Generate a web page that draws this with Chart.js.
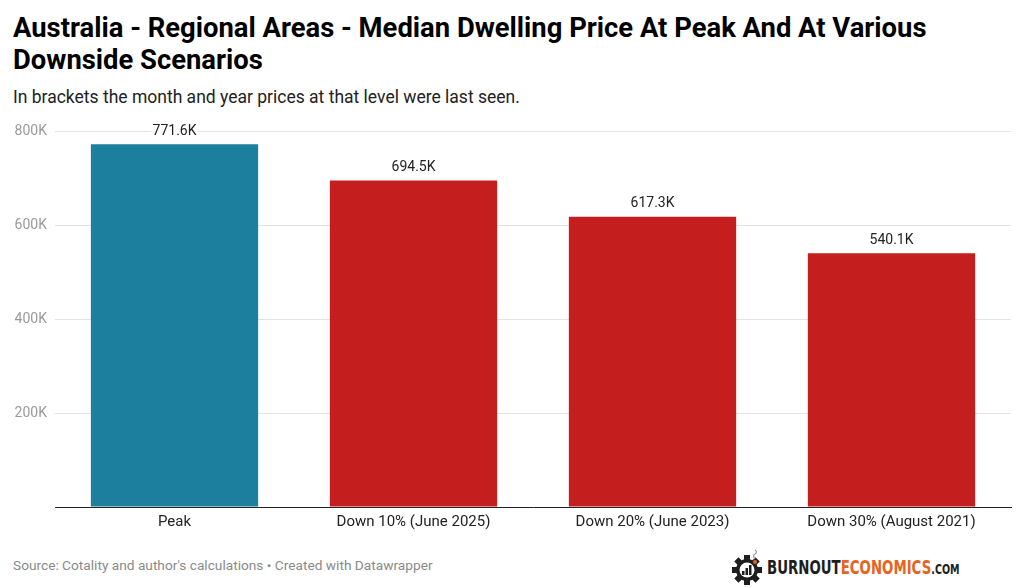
<!DOCTYPE html>
<html><head><meta charset="utf-8">
<script src="https://cdn.jsdelivr.net/npm/chart.js@4/dist/chart.umd.min.js"></script>
<style>
html,body{margin:0;padding:0;background:#fff;width:1024px;height:588px;overflow:hidden;font-family:Roboto,"Noto Sans",sans-serif;}
#title{position:absolute;left:13px;top:12px;width:940px;font-size:27.4px;font-weight:700;line-height:32px;color:#000;letter-spacing:0;}
#sub{position:absolute;left:13px;top:87px;font-size:17.5px;color:#222;}
#wrap{position:absolute;left:0;top:110px;width:1024px;height:427px;}
#foot{position:absolute;left:13px;top:557px;font-size:13.7px;color:#8a8a8a;}
#logo{position:absolute;left:731px;top:549px;height:36px;display:flex;align-items:center;}
#logo .t{font-family:"DejaVu Sans Condensed","DejaVu Sans",sans-serif;font-weight:700;font-size:19.5px;margin-left:4px;display:inline-block;transform:scaleX(0.76);transform-origin:left center;white-space:nowrap;}
#logo .d{color:#1e1e1e}#logo .o{color:#e8641e}#logo .c{color:#1e1e1e;font-size:14px;}
</style></head><body>
<div id="title">Australia - Regional Areas - Median Dwelling Price At Peak And At Various Downside Scenarios</div>
<div id="sub">In brackets the month and year prices at that level were last seen.</div>
<div id="wrap"><canvas id="c" width="1024" height="427"></canvas></div>
<div id="foot">Source: Cotality and author's calculations • Created with Datawrapper</div>
<div id="logo">
<svg width="32" height="36" viewBox="0 0 32 36">
<g transform="translate(16,21)">
<circle r="11" fill="#1e1e1e"/>
<g fill="#1e1e1e">
<rect x="-3" y="-15" width="6" height="6"/><rect x="-3" y="9" width="6" height="6"/>
<rect x="-15" y="-3" width="6" height="6"/><rect x="9" y="-3" width="6" height="6"/>
<rect x="-3" y="-15" width="6" height="6" transform="rotate(45)"/><rect x="-3" y="-15" width="6" height="6" transform="rotate(-45)"/>
<rect x="-3" y="9" width="6" height="6" transform="rotate(45)"/><rect x="-3" y="9" width="6" height="6" transform="rotate(-45)"/>
</g>
<circle r="7.5" fill="#fff"/>
<rect x="-5" y="1" width="2.5" height="4" fill="#1e1e1e"/><rect x="-1.5" y="-2" width="2.5" height="7" fill="#1e1e1e"/><rect x="2" y="-5" width="2.5" height="10" fill="#1e1e1e"/>
<circle cx="8" cy="-8" r="2" fill="#e8641e"/>
</g>
<path d="M24 10 q-3 -3 0 -5 q3 -2 0 -4" stroke="#999" stroke-width="1.2" fill="none"/>
</svg>
<span class="t"><span class="d">BURNOUT</span><span class="o">ECONOMICS</span><span class="c">.COM</span></span>
</div>
<script>
const categories = ["Peak", "Down 10% (June 2025)", "Down 20% (June 2023)", "Down 30% (August 2021)"];
const values = [771.6, 694.5, 617.3, 540.1];
const valueLabels = ["771.6K", "694.5K", "617.3K", "540.1K"];
const barColors = ["#1c7f9e", "#c41e1e", "#c41e1e", "#c41e1e"];
const yTicks = [0, 200, 400, 600, 800];

const labelPlugin = {
  id: 'vlabels',
  afterDatasetsDraw(chart) {
    const ctx = chart.ctx;
    const meta = chart.getDatasetMeta(0);
    ctx.save();
    ctx.font = '14px Roboto, sans-serif';
    ctx.textAlign = 'center';
    ctx.textBaseline = 'middle';
    meta.data.forEach((bar, i) => {
      const t = valueLabels[i];
      const w = ctx.measureText(t).width;
      const y = bar.y - 13;
      ctx.fillStyle = '#fff';
      ctx.fillRect(bar.x - w/2 - 1, y - 7, w + 2, 14);
      ctx.fillStyle = '#222';
      ctx.fillText(t, bar.x, y);
    });
    ctx.restore();
  }
};

new Chart(document.getElementById('c'), {
  type: 'bar',
  data: { labels: categories, datasets: [{ data: values, backgroundColor: barColors, categoryPercentage: 1, barPercentage: 0.7 }] },
  options: {
    responsive: false, animation: false,
    layout: { padding: { top: 21, right: 13, left: 0, bottom: 0 } },
    plugins: { legend: { display: false }, tooltip: { enabled: false } },
    scales: {
      x: {
        grid: { display: false },
        border: { color: '#222', width: 1 },
        ticks: { color: '#222', font: { family: 'Roboto', size: 15 }, padding: -2, maxRotation: 0 },
        afterFit(s) { s.height = 30; }
      },
      y: {
        min: 0, max: 800,
        afterBuildTicks(s) { s.ticks = yTicks.map(v => ({ value: v })); },
        grid: { color: '#e3e3e3', drawTicks: false },
        border: { display: false },
        ticks: { color: '#9a9a9a', font: { family: 'Roboto', size: 14 }, padding: 8,
          callback: v => v === 0 ? '' : v + 'K' },
        afterFit(s) { s.width = 55; }
      }
    }
  },
  plugins: [labelPlugin]
});
</script>
</body></html>
